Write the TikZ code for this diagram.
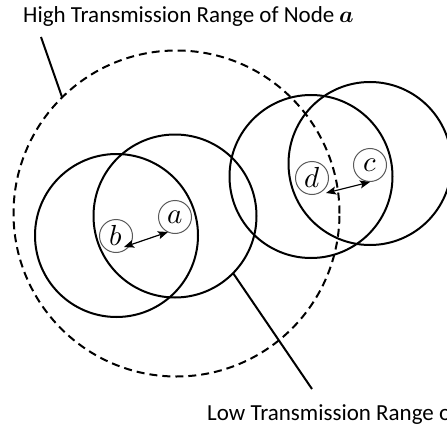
\documentclass[tikz,border=0pt]{standalone}
\usepackage{fontspec}
\setmainfont{Carlito}
\usepackage{unicode-math}
\usetikzlibrary{arrows.meta}
\begin{document}
\begin{tikzpicture}[x=1pt,y=-1pt,
  rangecirc/.style={draw,circle,inner sep=0pt,line width=2pt},
  hrangecirc/.style={draw,circle,inner sep=0pt,line width=2pt,dash pattern=on 8pt off 5pt},
  nodecirc/.style={circle,draw=black!65,line width=1pt,minimum size=33pt,inner sep=0pt,font=\fontsize{29}{29}\selectfont},
  linkarrow/.style={line width=1.2pt,{Stealth[length=10pt,width=8pt,inset=2pt]}-{Stealth[length=10pt,width=8pt,inset=2pt]}},
  leader/.style={line width=2pt},
  lbl/.style={font=\fontsize{23}{27}\selectfont,anchor=base west,inner sep=0pt}]
\useasboundingbox (0,0) rectangle (447,428);
\clip (0,0) rectangle (447,428);
\fill[white] (0,0) rectangle (447,428);
% ranges
\node[hrangecirc,minimum size=326pt] (H) at (176.5,213.5) {};
\node[rangecirc,minimum size=163pt] (Rb) at (116.5,235.5) {};
\node[rangecirc,minimum size=163pt] (Ra) at (175,216) {};
\node[rangecirc,minimum size=163pt] (Rd) at (311,176.5) {};
\node[rangecirc,minimum size=163pt] (Rc) at (370,163.5) {};
% nodes
\node[nodecirc] (a) at (175,217) {$a$};
\node[nodecirc] (b) at (116,236) {$b$};
\node[nodecirc] (d) at (312,178) {$d$};
\node[nodecirc] (c) at (370,165) {$c$};
% links
\coordinate (b1) at (124,247);
\coordinate (a1) at (168,232);
\coordinate (d1) at (326,193);
\coordinate (c1) at (370,182);
\draw[linkarrow] (b1) -- (a1);
\draw[linkarrow] (d1) -- (c1);
% labels
\node[lbl] (hl) at (23,23) {High Transmission Range of Node $\symbfit{a}$};
\node[lbl] (ll) at (207,420) {Low Transmission Range of Node $\symbfit{a}$};
\coordinate (h0) at (41,37);
\coordinate (h1) at (62,97);
\coordinate (l0) at (233,273);
\coordinate (l1) at (312,389);
\draw[leader] (h0) -- (h1);
\draw[leader] (l0) -- (l1);
\end{tikzpicture}
\end{document}
